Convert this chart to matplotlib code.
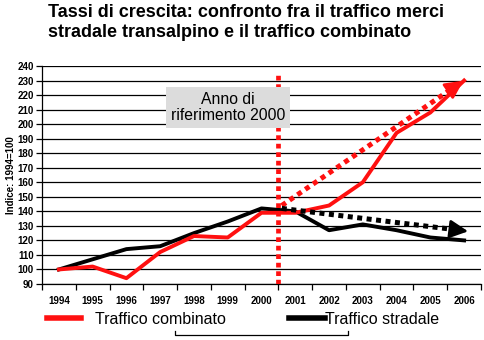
import numpy as np
import matplotlib.pyplot as plt
from matplotlib.lines import Line2D

# ==============================
# DATA
# ==============================
anni = ["1994", "1995", "1996", "1997", "1998", "1999", "2000",
        "2001", "2002", "2003", "2004", "2005", "2006"]
combinato = [100, 102, 94, 112, 123, 122, 139, 139, 144, 160, 194, 208, 230]
stradale = [100, 107, 114, 116, 125, 133, 142, 140, 127, 131, 127, 122, 120]

# trend arrows (start, end) in index units
trend_comb_x = [6.6, 12.05]
trend_comb_y = [144, 231]
trend_strad_x = [6.6, 12.2]
trend_strad_y = [142, 126]

plt.rcParams['font.family'] = ['Liberation Sans', 'DejaVu Sans']

# ==============================
# FIGURE
# ==============================
fig = plt.figure(figsize=(4.84, 3.40), dpi=100)
ax = fig.add_axes([42 / 484, 1 - 284 / 340, 439 / 484, 218 / 340])

x = np.arange(len(anni))

# grid
ax.set_ylim(90, 240)
ax.set_xlim(-0.5, len(anni) - 0.5)
ax.set_yticks(np.arange(90, 241, 10))
ax.yaxis.grid(True, color="black", linewidth=0.9)
ax.set_axisbelow(True)

# reference year line
ax.plot([6.5, 6.5], [90, 235], color="#ff1010", linewidth=3.4,
        linestyle=(0, (1, 0.8)), zorder=4)

# series
ax.plot(x, stradale, color="black", linewidth=2.8, zorder=3)
ax.plot(x, combinato, color="#ff1010", linewidth=2.8, zorder=3)

# trend arrows
ax.plot(trend_comb_x[0:1] + [trend_comb_x[1] - 0.25],
        trend_comb_y[0:1] + [trend_comb_y[1] - 4], color="#ff1010",
        linewidth=3.6, linestyle=(0, (1, 0.9)), zorder=5)
ax.annotate("", xy=(trend_comb_x[1], trend_comb_y[1]),
            xytext=(trend_comb_x[1] - 0.45, trend_comb_y[1] - 7.2),
            arrowprops=dict(arrowstyle="-|>,head_length=1.1,head_width=0.55",
                            color="#ff1010", lw=2), zorder=5)
ax.plot(trend_strad_x[0:1] + [trend_strad_x[1] - 0.3],
        trend_strad_y[0:1] + [trend_strad_y[1] + 0.9], color="black",
        linewidth=3.6, linestyle=(0, (1, 0.9)), zorder=5)
ax.annotate("", xy=(trend_strad_x[1], trend_strad_y[1]),
            xytext=(trend_strad_x[1] - 0.55, trend_strad_y[1] + 1.6),
            arrowprops=dict(arrowstyle="-|>,head_length=1.1,head_width=0.55",
                            color="black", lw=2), zorder=5)

# annotation box
ax.text(5.0, 211.5, "Anno di\nriferimento 2000", ha="center", va="center",
        fontsize=11.3, linespacing=1.15, zorder=6,
        bbox=dict(boxstyle="square,pad=0.3", facecolor="#dcdcdc",
                  edgecolor="none"))

# axes styling
for s in ["top", "right"]:
    ax.spines[s].set_visible(False)
ax.spines["left"].set_linewidth(0.9)
ax.spines["bottom"].set_linewidth(0.9)
ax.set_xticks(x)
ax.set_xticklabels(anni, fontsize=7, fontweight="bold")
ax.set_xticks(np.arange(-0.5, len(anni) + 0.5, 1), minor=True)
ax.tick_params(axis="x", which="major", length=0, pad=9)
ax.tick_params(axis="x", which="minor", length=4, width=0.9)
ax.tick_params(axis="y", length=4, width=0.9, pad=2, labelsize=7)
for lab in ax.get_yticklabels():
    lab.set_fontweight("bold")
ax.set_ylabel("Indice: 1994=100", fontsize=7, fontweight="bold", labelpad=1)

# title
fig.text(48 / 484, 1 - 4 / 340,
         "Tassi di crescita: confronto fra il traffico merci\n"
         "stradale transalpino e il traffico combinato",
         ha="left", va="top", fontsize=13, fontweight="bold", linespacing=1.25)

# legends
h1 = [Line2D([], [], color="#ff1010", linewidth=4)]
h2 = [Line2D([], [], color="black", linewidth=4)]
fig.legend(h1, ["Traffico combinato"], loc="center left",
           bbox_to_anchor=(33 / 484, 1 - 319 / 340), frameon=False,
           fontsize=11.5, handlelength=2.1, handletextpad=0.9)
fig.legend(h2, ["Traffico stradale"], loc="center left",
           bbox_to_anchor=(275 / 484, 1 - 319 / 340), frameon=False,
           fontsize=11.5, handlelength=2.2, handletextpad=0.0)

# bracket under legend
fig.add_artist(Line2D([175 / 484, 175 / 484, 348 / 484, 348 / 484],
                      [1 - 331 / 340, 1 - 335 / 340, 1 - 335 / 340, 1 - 331 / 340],
                      color="black", linewidth=0.9))

fig.savefig("out.png", dpi=100)
